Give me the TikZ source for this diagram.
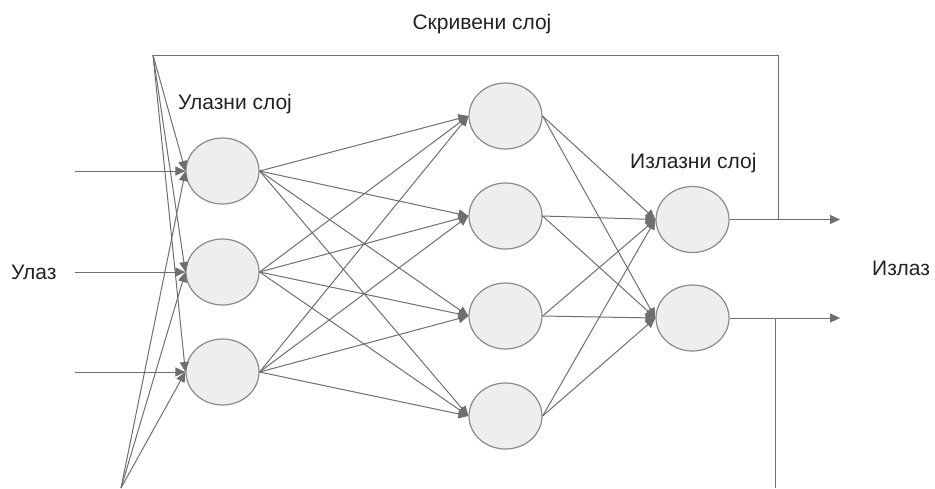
\documentclass[tikz,border=0pt]{standalone}
\usepackage{fontspec}
\setmainfont{Liberation Sans}
\usetikzlibrary{shapes.geometric,arrows.meta}
\definecolor{wire}{HTML}{6E6E6E}
\definecolor{rim}{HTML}{8A8A8A}
\definecolor{cellfill}{HTML}{EEEEEE}
\definecolor{ink}{HTML}{222222}
\begin{document}
\begin{tikzpicture}[x=1pt,y=-1pt,
  neuron/.style={ellipse,draw=rim,fill=cellfill,line width=1.2pt,
    minimum width=73pt,minimum height=66pt,inner sep=0pt},
  link/.style={draw=wire,line width=1pt,-{Triangle[length=10pt,width=9pt]}},
  wireline/.style={draw=wire,line width=1pt},
  lbl/.style={text=ink,font=\fontsize{21}{25}\selectfont,inner sep=0pt}]
\useasboundingbox (0,0) rectangle (935,488);

% neurons
\node[neuron] (i1) at (222.5,171) {};
\node[neuron] (i2) at (222.5,272) {};
\node[neuron] (i3) at (222.5,372) {};
\node[neuron] (h1) at (505.5,116) {};
\node[neuron] (h2) at (505.5,216) {};
\node[neuron] (h3) at (505.5,316) {};
\node[neuron] (h4) at (505.5,416) {};
\node[neuron] (o1) at (692.5,219.5) {};
\node[neuron] (o2) at (692.5,318) {};

% free wire ends
\coordinate (a1) at (75,171);
\coordinate (a2) at (75,272);
\coordinate (a3) at (75,372);
\coordinate (top) at (153,55);
\coordinate (bot) at (121,488);
\coordinate (corner) at (778,55);
\coordinate (join) at (778,219.5);
\coordinate (e1) at (840,219.5);
\coordinate (e2) at (840,318);
\coordinate (tap) at (775,318);
\coordinate (down) at (775,488);

% external inputs
\foreach \k in {1,2,3} {
  \draw[link] (a\k) -- (i\k.west);
  \draw[link] (top) -- (i\k.west);
  \draw[link] (bot) -- (i\k.west);
}

% input to hidden
\foreach \k in {1,2,3}
  \foreach \m in {1,2,3,4}
    \draw[link] (i\k.east) -- (h\m.west);

% hidden to output
\foreach \m in {1,2,3,4}
  \foreach \n in {1,2}
    \draw[link] (h\m.east) -- (o\n.west);

% outputs
\draw[link] (o1.east) -- (e1);
\draw[link] (o2.east) -- (e2);

% recurrent wires
\draw[wireline] (top) -- (corner) -- (join);
\draw[wireline] (tap) -- (down);

% labels
\node[lbl] (thidden) at (482,24) {Скривени слој};
\node[lbl,anchor=west] (tin) at (178,104) {Улазни слој};
\node[lbl,anchor=west] (tout) at (630,163) {Излазни слој};
\node[lbl,anchor=west] (tx) at (11,272) {Улаз};
\node[lbl,anchor=west] (ty) at (872,268) {Излаз};
\end{tikzpicture}
\end{document}
